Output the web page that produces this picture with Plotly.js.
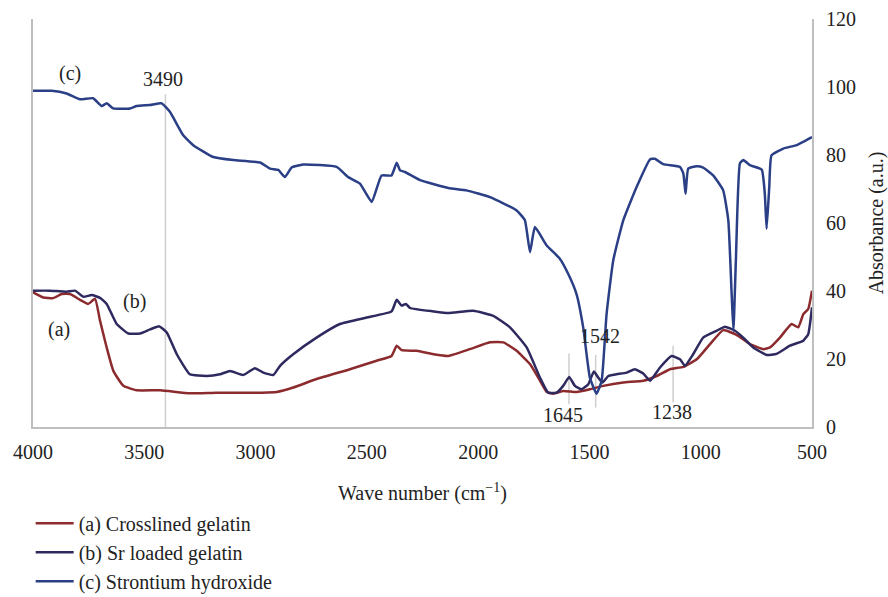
<!DOCTYPE html>
<html>
<head>
<meta charset="utf-8">
<script src="https://cdn.plot.ly/plotly-3.0.1.min.js"></script>
<style>
html,body{margin:0;padding:0;background:#fff;}
#chart{width:888px;height:597px;}
</style>
</head>
<body>
<div id="chart"></div>
<script>
// Series names
const seriesNames = ["(a) Crosslined gelatin", "(b) Sr loaded gelatin", "(c) Strontium hydroxide"];

// (a) Crosslined gelatin
const waveA = [4000,3954,3909,3871,3834,3789,3752,3721,3699,3669,3639,3594,3534,3429,3295,3175,2971,2905,2831,2726,2576,2456,2389,2366,2344,2276,2201,2134,2037,1947,1887,1827,1767,1722,1692,1662,1618,1558,1498,1438,1348,1258,1198,1138,1078,1018,958,899,839,779,719,689,644,592,562,539,517,500];
const absA  = [39.6,38.1,37.9,39.1,39.1,37.4,36.2,37.7,31.3,23.4,16.5,12.1,10.8,10.8,9.9,10.1,10.1,10.3,11.6,14.1,17.0,19.5,20.9,23.9,22.6,22.4,21.4,20.9,22.9,24.9,24.9,22.4,18.5,13.6,10.3,9.8,10.6,10.3,11.1,12.1,13.1,13.6,15.0,17.0,17.7,19.9,24.4,28.5,27.1,24.4,22.9,23.4,26.3,30.3,29.3,33.2,34.7,40.1];

// (b) Sr loaded gelatin
const waveB = [4000,3925,3849,3811,3774,3736,3699,3669,3624,3572,3519,3474,3433,3399,3354,3295,3220,3160,3115,3055,3003,2965,2920,2890,2831,2726,2621,2501,2389,2366,2344,2324,2306,2201,2134,2022,1932,1857,1782,1722,1685,1647,1618,1591,1565,1535,1505,1480,1460,1441,1415,1378,1333,1296,1258,1228,1183,1131,1093,1071,1034,989,929,891,846,809,764,704,659,599,539,517,500];
const absB  = [40.1,40.1,39.8,40.1,38.3,38.8,38.0,36.2,30.3,27.5,27.5,28.7,29.6,27.8,21.4,15.5,15.0,15.5,16.5,15.3,17.3,16.0,15.3,18.0,21.4,26.3,30.3,32.2,34.0,37.4,35.7,36.2,35.0,34.0,33.5,34.2,32.7,29.3,23.4,14.5,10.1,10.1,12.1,14.7,12.1,11.1,12.6,16.3,14.5,13.1,15.0,15.5,16.0,17.0,15.7,13.6,17.5,20.9,19.9,18.0,21.4,26.3,28.3,29.5,28.3,26.3,23.4,21.2,21.5,23.9,25.4,27.3,35.2];

// (c) Strontium hydroxide
const waveC = [4000,3916,3849,3789,3730,3691,3669,3640,3564,3534,3474,3422,3385,3325,3280,3190,3100,2980,2935,2898,2868,2838,2786,2636,2584,2531,2478,2434,2389,2366,2351,2329,2261,2134,2052,1947,1827,1790,1767,1745,1692,1633,1595,1558,1528,1498,1468,1445,1423,1393,1348,1288,1228,1206,1168,1093,1078,1068,1056,1018,989,944,899,876,861,853,842,824,809,779,726,712,704,692,682,629,569,539,500];
const absC  = [98.9,98.9,98.1,96.4,96.7,94.4,95.2,93.7,93.7,94.4,94.7,95.2,92.7,85.8,82.9,79.4,78.5,77.8,76.0,75.6,73.5,76.3,77.2,76.5,73.5,71.6,66.2,74.0,74.0,77.7,75.5,75.0,72.6,70.3,69.6,67.6,63.7,60.8,51.4,58.8,53.4,49.5,45.0,39.1,29.3,14.5,9.8,13.6,33.2,49.0,60.8,70.6,78.7,78.9,77.3,76.5,74.5,68.6,76.0,76.7,76.3,74.0,69.6,60.8,39.1,28.3,49.0,77.5,78.5,77.0,75.7,68.6,58.3,70.6,79.9,81.9,82.9,83.9,85.3];

// Axis ticks
const xTicks = [4000,3500,3000,2500,2000,1500,1000,500];
const yTicks = [0,20,40,60,80,100,120];

// Peak labels and their marker lines
const peakLabels = ["3490","1645","1542","1238"];
const peakLineWave = [3405,1592,1472,1124];
const peakLineLow  = [0,6.7,5.7,7.2];
const peakLineHigh = [97.9,21.6,21.2,23.9];

const colors = ["#8C2B2E", "#2E2A5F", "#2A3F86"];
const FONT = "'Liberation Serif', 'Times New Roman', serif";

const traces = [
  {x: waveA, y: absA, name: seriesNames[0], legendgroup: "a"},
  {x: waveB, y: absB, name: seriesNames[1], legendgroup: "b"},
  {x: waveC, y: absC, name: seriesNames[2], legendgroup: "c"}
].map((t, i) => Object.assign(t, {
  type: "scatter", mode: "lines",
  line: {color: colors[i], width: 2.5, shape: "spline", smoothing: 0.4}
}));

const annFont = {family: FONT, size: 20, color: "#222"};
const annotations = [
  {text: "(c)", x: 3834, y: 104},
  {text: "(b)", x: 3542, y: 37},
  {text: "(a)", x: 3882, y: 28.8},
  {text: peakLabels[0], x: 3416, y: 102.4},
  {text: peakLabels[1], x: 1618, y: 3.5},
  {text: peakLabels[2], x: 1453, y: 26.8},
  {text: peakLabels[3], x: 1130, y: 4.4}
].map(a => Object.assign(a, {xref: "x", yref: "y", showarrow: false, font: annFont}));

const shapes = peakLineWave.map((w, i) => ({
  type: "line", xref: "x", yref: "y",
  x0: w, x1: w, y0: peakLineLow[i], y1: peakLineHigh[i],
  line: {color: "#cfcfcf", width: 1.5},
  layer: "below"
}));

const layout = {
  width: 888, height: 597,
  margin: {l: 33, r: 76, t: 19, b: 170, autoexpand: false},
  paper_bgcolor: "#fff", plot_bgcolor: "#fff",
  font: {family: FONT, size: 20, color: "#222"},
  showlegend: true,
  legend: {
    x: -0.003, xanchor: "left", y: -0.188, yanchor: "top",
    orientation: "v", tracegroupgap: 0, itemwidth: 38,
    font: {family: FONT, size: 20, color: "#222"},
    bgcolor: "rgba(0,0,0,0)"
  },
  xaxis: {
    range: [4000, 500], tickvals: xTicks, ticktext: xTicks.map(String),
    showgrid: false, zeroline: false, showline: true, automargin: false,
    linecolor: "#bfbfbf", linewidth: 2, ticks: "",
    ticklabelstandoff: 6,
    title: {text: "Wave number (cm<sup>−1</sup>)", font: {family: FONT, size: 20, color: "#222"}, standoff: 24}
  },
  yaxis: {
    range: [0, 120], side: "right", tickvals: yTicks, automargin: false,
    showgrid: false, zeroline: false, showline: true, mirror: true,
    linecolor: "#bfbfbf", linewidth: 2, ticks: "",
    ticklabelstandoff: 8,
    title: {text: "Absorbance (a.u.)", font: {family: FONT, size: 20, color: "#222"}, standoff: 14}
  },
  annotations: annotations,
  shapes: shapes
};

Plotly.newPlot("chart", traces, layout, {displayModeBar: false, staticPlot: true});
</script>
</body>
</html>
